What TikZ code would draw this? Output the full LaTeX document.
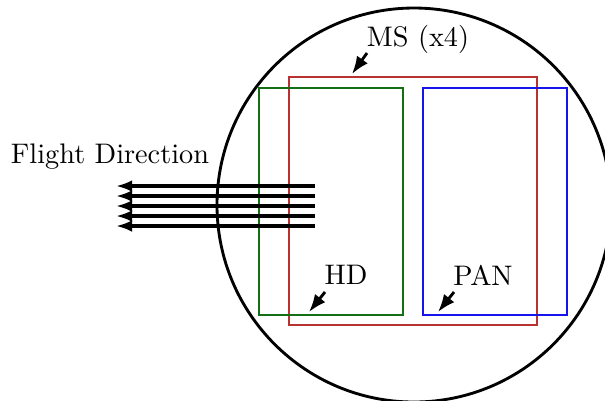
\documentclass[tikz,border=0pt]{standalone}
\usepackage{xcolor}
\usetikzlibrary{arrows.meta,positioning}
\definecolor{msred}{RGB}{185,50,50}
\definecolor{hdgreen}{RGB}{20,110,20}
\definecolor{panblue}{RGB}{20,20,235}

\begin{document}
\begin{tikzpicture}[
    x=0.01355cm, y=-0.01355cm,
    every node/.style={font=\fontsize{10.9pt}{13pt}\selectfont, align=center},
    bandbox/.style={line width=1.0pt},
    lbl/.style={inner sep=1pt},
    arr/.style={-{Latex[length=2.4mm,width=1.8mm]}, line width=1.1pt, draw=black},
    flow/.style={-{Latex[length=2.2mm,width=1.6mm]}, line width=1.2pt, draw=black}
]
\useasboundingbox (0,0) rectangle (605,400);
\clip (0,0) rectangle (605,400);

% field of view
\draw[line width=1.1pt] (414,205) circle (197);

% sensor footprints
\draw[bandbox, draw=msred] (289,77) rectangle (537,325);
\draw[bandbox, draw=hdgreen] (259,88) rectangle (403,315);
\draw[bandbox, draw=panblue] (423,88) rectangle (567,315);

% labels
\node (flight) at (110,157) {Flight Direction};
\node[lbl] (ms) at (418,39) {MS (x4)};
\node[lbl] (hd) at (346,275) {HD};
\node[lbl] (pan) at (483,275) {PAN};

\coordinate (ms_tail) at (367,53);
\coordinate (ms_tip) at (352,74);
\coordinate (hd_tail) at (325,292);
\coordinate (hd_tip) at (309,312);
\coordinate (pan_tail) at (454,292);
\coordinate (pan_tip) at (438,312);

\draw[arr] (ms_tail) -- (ms_tip);
\draw[arr] (hd_tail) -- (hd_tip);
\draw[arr] (pan_tail) -- (pan_tip);

% flight direction
\foreach \k in {0,...,4} {
    \coordinate (fs\k) at (315,186+10*\k);
    \coordinate (fe\k) at (116,186+10*\k);
    \draw[flow] (fs\k) -- (fe\k);
}

\end{tikzpicture}
\end{document}
